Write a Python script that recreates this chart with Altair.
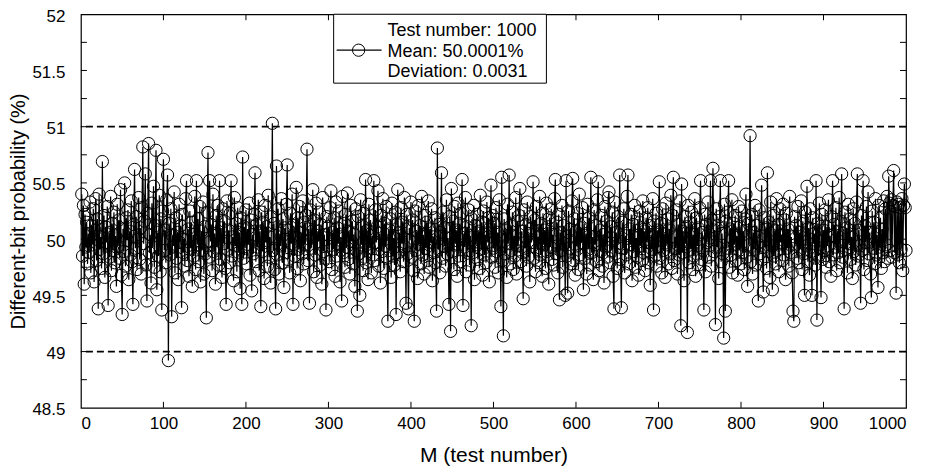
import altair as alt
import pandas as pd

# ---------------- data ----------------
block_001_100 = [50.40, 49.85, 50.30, 49.60, 50.22, 49.93, 50.15, 49.78, 50.05, 49.88,
                 50.33, 49.70, 50.12, 49.95, 50.27, 49.62, 50.08, 50.36, 49.81, 50.18,
                 49.38, 50.40, 49.91, 50.02, 49.74, 50.69, 49.87, 50.21, 49.66, 50.11,
                 49.97, 50.29, 49.41, 50.06, 49.84, 50.38, 49.72, 50.14, 49.90, 50.24,
                 49.79, 50.03, 49.58, 50.31, 49.94, 50.17, 49.83, 50.44, 49.68, 49.33,
                 50.09, 49.89, 50.50, 49.76, 50.19, 49.99, 50.26, 49.64, 50.07, 49.86,
                 50.34, 49.80, 49.42, 50.13, 50.62, 49.92, 50.20, 49.73, 50.01, 50.37,
                 49.82, 50.10, 49.69, 50.28, 50.82, 49.96, 50.16, 50.58, 49.77, 49.45,
                 50.23, 50.85, 49.88, 50.04, 49.61, 50.32, 49.93, 50.47, 49.75, 50.12,
                 50.79, 49.55, 50.06, 49.85, 50.39, 49.71, 50.18, 49.37, 50.25, 50.71]
block_101_200 = [49.90, 50.08, 49.79, 50.35, 50.57, 48.92, 50.14, 49.86, 50.27, 49.31,
                 50.03, 49.94, 50.42, 49.70, 50.19, 49.83, 50.06, 49.64, 50.31, 49.97,
                 50.12, 49.39, 50.22, 49.88, 50.00, 49.76, 50.36, 50.52, 49.81, 50.09,
                 49.67, 50.25, 49.92, 50.15, 49.58, 50.04, 49.85, 50.38, 49.73, 50.52,
                 49.95, 50.18, 49.80, 50.29, 49.62, 50.07, 49.90, 50.33, 49.69, 50.11,
                 49.87, 49.30, 50.24, 50.77, 49.84, 50.52, 49.98, 50.13, 49.72, 50.40,
                 49.89, 50.05, 49.60, 50.21, 49.93, 50.30, 49.77, 50.52, 49.82, 50.10,
                 49.66, 50.27, 49.96, 50.16, 49.74, 49.42, 50.34, 49.91, 50.08, 49.79,
                 50.23, 50.52, 49.85, 50.02, 49.63, 50.37, 49.94, 50.14, 49.71, 50.28,
                 49.88, 50.06, 49.56, 50.19, 49.42, 50.73, 49.83, 50.11, 49.92, 50.26]
block_201_300 = [49.78, 50.09, 49.95, 50.32, 49.68, 50.17, 49.54, 50.04, 49.87, 50.22,
                 50.59, 49.80, 50.13, 49.93, 50.35, 49.72, 50.07, 49.40, 50.24, 49.89,
                 50.15, 49.65, 50.30, 49.97, 50.11, 49.76, 50.39, 49.84, 50.02, 49.61,
                 50.20, 51.03, 49.90, 50.14, 49.73, 49.38, 50.65, 49.86, 50.27, 49.69,
                 50.05, 49.94, 50.36, 49.79, 50.18, 49.57, 50.10, 49.88, 50.31, 50.66,
                 49.82, 50.08, 49.70, 50.23, 49.96, 50.40, 49.42, 50.12, 49.85, 50.03,
                 50.46, 49.74, 50.19, 49.91, 50.29, 49.63, 50.06, 49.87, 50.34, 49.78,
                 50.15, 49.95, 50.21, 50.80, 49.81, 50.09, 49.43, 50.26, 49.92, 50.01,
                 50.44, 49.71, 50.17, 49.86, 50.32, 49.66, 50.07, 49.98, 50.24, 49.77,
                 50.13, 49.60, 50.37, 49.89, 50.04, 49.83, 49.37, 50.20, 49.94, 50.11]
block_301_400 = [49.80, 50.28, 50.43, 49.73, 50.06, 49.91, 50.19, 49.67, 50.33, 49.85,
                 50.10, 49.96, 50.25, 49.62, 50.02, 49.45, 50.38, 49.88, 50.14, 49.75,
                 50.22, 49.93, 50.41, 49.82, 50.07, 49.69, 50.30, 49.98, 50.16, 49.78,
                 50.04, 49.58, 50.27, 49.90, 49.36, 50.20, 49.87, 49.50, 50.35, 49.95,
                 50.12, 49.72, 50.23, 49.84, 50.53, 49.79, 50.08, 49.64, 50.31, 49.92,
                 50.17, 49.70, 50.03, 49.86, 50.52, 49.81, 50.26, 49.97, 50.11, 50.43,
                 49.76, 50.05, 49.61, 50.21, 49.89, 50.36, 49.74, 50.14, 49.94, 50.29,
                 49.83, 49.27, 50.09, 49.90, 50.18, 49.66, 50.32, 49.85, 50.01, 49.77,
                 50.24, 49.33, 50.13, 50.44, 49.88, 50.06, 49.71, 50.28, 49.96, 50.15,
                 49.80, 50.37, 49.93, 49.43, 50.22, 49.87, 49.38, 50.10, 49.99, 50.33]
block_401_500 = [49.84, 50.17, 49.72, 49.27, 50.25, 49.90, 50.07, 49.65, 50.30, 49.95,
                 50.12, 49.78, 50.38, 49.86, 50.04, 49.69, 50.21, 49.92, 50.15, 49.81,
                 50.34, 49.75, 50.09, 49.97, 50.27, 49.63, 50.02, 49.88, 50.19, 49.79,
                 49.36, 50.81, 49.91, 50.13, 49.70, 50.06, 50.59, 49.83, 50.24, 49.94,
                 50.10, 49.76, 50.35, 49.87, 50.01, 49.42, 50.20, 49.18, 50.45, 49.89,
                 50.16, 49.73, 50.29, 49.96, 50.08, 49.67, 50.32, 49.85, 50.14, 49.80,
                 50.23, 50.53, 49.41, 50.05, 49.93, 50.37, 49.71, 50.11, 49.90, 50.26,
                 49.77, 50.03, 49.23, 50.18, 49.88, 50.30, 49.64, 50.12, 49.95, 50.22,
                 49.82, 50.07, 49.74, 50.39, 49.91, 50.15, 49.68, 50.25, 49.86, 50.04,
                 49.79, 50.33, 49.97, 50.19, 49.62, 50.10, 50.48, 49.84, 50.21, 49.92]
block_501_600 = [50.14, 49.75, 50.28, 49.89, 50.06, 49.70, 50.35, 49.93, 49.40, 50.55,
                 49.81, 49.14, 50.18, 49.87, 50.09, 49.66, 50.31, 49.96, 50.57, 49.78,
                 50.12, 49.90, 50.24, 49.73, 50.03, 49.85, 50.37, 49.69, 50.16, 49.94,
                 50.21, 50.45, 49.80, 50.07, 49.88, 49.47, 50.26, 49.92, 50.13, 49.76,
                 50.33, 49.84, 50.05, 49.62, 50.20, 49.97, 50.10, 50.51, 49.83, 50.17,
                 49.71, 50.29, 49.91, 50.02, 49.79, 50.38, 49.86, 50.14, 49.67, 50.23,
                 49.95, 50.08, 49.74, 50.32, 49.89, 50.11, 49.60, 50.19, 49.93, 50.27,
                 49.82, 50.04, 49.77, 50.36, 50.53, 49.87, 50.15, 49.70, 50.22, 49.46,
                 50.06, 49.90, 50.30, 49.75, 50.12, 49.96, 49.50, 50.52, 49.85, 49.52,
                 50.25, 49.92, 50.09, 49.78, 50.34, 50.54, 49.81, 50.18, 49.68, 50.07]
block_601_700 = [49.94, 50.23, 49.73, 50.40, 49.86, 50.10, 49.97, 50.28, 49.55, 50.14,
                 49.83, 50.05, 49.69, 50.31, 49.91, 50.19, 49.77, 50.55, 49.88, 50.02,
                 49.64, 50.26, 49.95, 50.12, 49.80, 50.35, 50.51, 49.72, 50.08, 49.89,
                 50.21, 49.76, 50.04, 49.61, 50.29, 49.93, 50.16, 49.84, 50.37, 50.42,
                 49.79, 50.11, 49.90, 50.24, 49.67, 49.38, 50.33, 49.87, 50.06, 49.74,
                 50.20, 49.96, 50.57, 49.82, 49.39, 50.15, 49.92, 50.27, 49.70, 50.03,
                 49.86, 50.38, 50.57, 49.78, 50.09, 49.95, 50.22, 49.63, 50.13, 49.89,
                 50.30, 49.75, 50.01, 49.84, 50.18, 49.68, 50.25, 49.94, 50.10, 49.81,
                 50.34, 49.88, 50.07, 49.72, 50.19, 49.97, 50.28, 49.79, 50.12, 49.59,
                 50.04, 49.91, 50.36, 49.37, 50.16, 49.85, 50.23, 49.76, 50.08, 49.93]
block_701_800 = [50.51, 49.83, 50.14, 49.70, 50.27, 49.90, 50.05, 49.66, 50.32, 49.95,
                 50.18, 49.78, 50.09, 49.87, 50.39, 49.74, 50.21, 50.55, 49.81, 50.02,
                 49.92, 50.26, 49.69, 50.13, 49.86, 50.34, 49.23, 50.49, 49.88, 50.07,
                 49.63, 50.20, 49.96, 50.11, 49.17, 50.30, 49.79, 50.15, 49.91, 50.24,
                 49.73, 50.04, 49.85, 50.36, 49.67, 50.19, 49.94, 50.10, 49.77, 50.28,
                 50.52, 49.82, 50.06, 49.90, 49.37, 50.22, 49.71, 50.13, 49.97, 50.33,
                 49.84, 50.01, 50.52, 49.76, 50.17, 50.63, 49.89, 50.08, 49.24, 50.27,
                 49.93, 50.12, 49.65, 50.20, 50.52, 49.80, 50.05, 49.87, 49.12, 50.31,
                 49.36, 50.16, 49.92, 50.24, 50.52, 49.75, 50.09, 49.86, 50.35, 49.70,
                 50.14, 49.95, 50.21, 49.81, 50.03, 49.68, 50.29, 49.90, 50.11, 49.78]
block_801_900 = [50.25, 49.88, 50.07, 49.73, 50.18, 50.40, 49.84, 49.58, 50.14, 49.95,
                 50.92, 49.80, 50.22, 49.69, 50.06, 49.91, 50.30, 49.77, 50.12, 49.96,
                 49.45, 50.26, 49.87, 50.03, 50.48, 49.82, 49.53, 50.19, 49.93, 50.10,
                 49.74, 50.59, 49.89, 50.15, 49.66, 50.33, 49.94, 49.55, 50.21, 49.85,
                 50.08, 49.78, 50.36, 49.90, 50.13, 49.71, 50.27, 49.97, 50.04, 49.81,
                 50.31, 49.86, 50.17, 49.64, 50.23, 49.92, 50.09, 49.76, 50.38, 49.88,
                 50.02, 49.70, 49.36, 49.27, 50.20, 49.95, 50.12, 49.83, 50.29, 49.79,
                 50.06, 49.91, 50.34, 49.73, 50.16, 49.87, 49.50, 50.24, 49.94, 50.47,
                 49.80, 50.10, 49.68, 50.27, 49.89, 49.50, 50.19, 49.96, 50.05, 49.77,
                 50.52, 49.28, 50.14, 49.85, 50.32, 49.92, 49.48, 50.22, 49.82, 50.08]
block_901_1000 = [49.90, 50.26, 49.75, 50.11, 49.94, 50.35, 49.80, 50.03, 49.67, 50.20,
                  50.52, 49.86, 50.13, 49.93, 50.28, 49.72, 50.07, 49.88, 50.37, 49.79,
                  50.16, 50.58, 49.84, 50.05, 49.38, 50.24, 49.91, 50.10, 49.70, 50.31,
                  49.96, 50.18, 49.82, 50.02, 49.65, 50.27, 49.89, 50.14, 49.77, 50.33,
                  50.58, 49.85, 50.08, 49.94, 49.43, 50.21, 49.90, 50.52, 49.73, 50.12,
                  49.97, 50.29, 49.81, 50.42, 49.87, 50.06, 49.69, 49.48, 50.25, 49.92,
                  50.15, 49.78, 50.36, 49.86, 50.04, 49.57, 50.30, 49.93, 50.19, 49.74,
                  50.09, 49.88, 50.34, 49.80, 50.27, 49.95, 50.38, 49.83, 50.56, 50.32,
                  49.90, 50.35, 49.84, 50.30, 50.61, 49.88, 50.29, 49.52, 50.33, 49.86,
                  50.31, 49.79, 50.28, 49.91, 50.36, 49.72, 50.30, 50.49, 50.28, 49.90]

probability = (block_001_100 + block_101_200 + block_201_300 + block_301_400 +
               block_401_500 + block_501_600 + block_601_700 + block_701_800 +
               block_801_900 + block_901_1000)
test_number = list(range(1, len(probability) + 1))

limit_lines = [49, 51]
x_label_values = [0, 100, 200, 300, 400, 500, 600, 700, 800, 900, 1000]
y_label_values = [48.5, 49, 49.5, 50, 50.5, 51, 51.5, 52]
x_tick_values = [100, 200, 300, 400, 500, 600, 700, 800, 900]
y_tick_values = [48.75, 49, 49.25, 49.5, 49.75, 50, 50.25, 50.5, 50.75,
                 51, 51.25, 51.5, 51.75]
legend_lines = ["Test number: 1000", "Mean: 50.0001%", "Deviation: 0.0031"]

# ---------------- chart ----------------
W, H = 826, 394
FONT = "Liberation Sans"
TICK = 6

df = pd.DataFrame({"M": test_number, "P": probability})
xs = alt.Scale(domain=[0, 1000], nice=False, zero=False)
ys = alt.Scale(domain=[48.5, 52], nice=False, zero=False)

x_axis = alt.Axis(values=x_label_values, title="M (test number)", format="d",
                  labelFontSize=17, titleFontSize=21, titleFontWeight="normal",
                  labelPadding=8, titlePadding=13, ticks=False, domain=False, grid=False,
                  labelFont=FONT, titleFont=FONT, labelColor="black", titleColor="black")
y_axis = alt.Axis(values=y_label_values, title="Different-bit probability (%)",
                  format="~g", labelFontSize=17, labelOffset=2, titleFontSize=20,
                  titleFontWeight="normal", labelPadding=16, titlePadding=3,
                  ticks=False, domain=False, grid=False, labelFont=FONT,
                  titleFont=FONT, labelColor="black", titleColor="black")


def X(field):
    return alt.X(field, scale=xs, axis=x_axis)


def Y(field):
    return alt.Y(field, scale=ys, axis=y_axis)


base = alt.Chart(df).encode(x=X("M:Q"), y=Y("P:Q"))
line = base.mark_line(color="black", strokeWidth=1.2)
points = base.mark_point(shape="circle", filled=False, size=150, color="black",
                         strokeWidth=1, opacity=1)

limits = alt.Chart(pd.DataFrame({"v": limit_lines})).mark_rule(
    color="black", strokeWidth=1.8, strokeDash=[7, 4]
).encode(y=Y("v:Q"))

ydf = pd.DataFrame({"t": y_tick_values})
xdf = pd.DataFrame({"t": x_tick_values})
tick_style = dict(color="black", strokeWidth=1)
left_ticks = alt.Chart(ydf).mark_rule(**tick_style).encode(
    y=Y("t:Q"), x=alt.value(0), x2=alt.value(TICK))
right_ticks = alt.Chart(ydf).mark_rule(**tick_style).encode(
    y=Y("t:Q"), x=alt.value(W - TICK), x2=alt.value(W))
bottom_ticks = alt.Chart(xdf).mark_rule(**tick_style).encode(
    x=X("t:Q"), y=alt.value(H), y2=alt.value(H - TICK))
top_ticks = alt.Chart(xdf).mark_rule(**tick_style).encode(
    x=X("t:Q"), y=alt.value(0), y2=alt.value(TICK))

one = alt.Data(values=[{"k": 1}])
legend_box = alt.Chart(one).mark_rect(fill="white", stroke="black", strokeWidth=1).encode(
    x=alt.value(253), x2=alt.value(466), y=alt.value(0), y2=alt.value(69))
legend_line = alt.Chart(one).mark_rule(color="black", strokeWidth=1.2).encode(
    x=alt.value(256), x2=alt.value(301), y=alt.value(36))
legend_marker = alt.Chart(one).mark_point(shape="circle", filled=False, size=150,
                                          color="black", strokeWidth=1, opacity=1).encode(
    x=alt.value(278), y=alt.value(36))
legend_text = alt.Chart(one).mark_text(align="left", baseline="alphabetic", fontSize=18,
                                       lineHeight=20.5, font=FONT, color="black").encode(
    x=alt.value(307), y=alt.value(22), text=alt.value(legend_lines))

chart = alt.layer(
    line, points, limits, left_ticks, right_ticks, bottom_ticks, top_ticks,
    legend_box, legend_line, legend_marker, legend_text
).resolve_scale(x="shared", y="shared").properties(
    width=W, height=H,
    autosize=alt.AutoSizeParams(type="none"),
    padding={"left": 73, "top": 6, "right": 20, "bottom": 59},
    background="white",
).configure_view(stroke="black", strokeWidth=1.2).configure_axis(labelFont=FONT, titleFont=FONT)

chart.save("out.html", embed_options={"renderer": "svg", "actions": False})
